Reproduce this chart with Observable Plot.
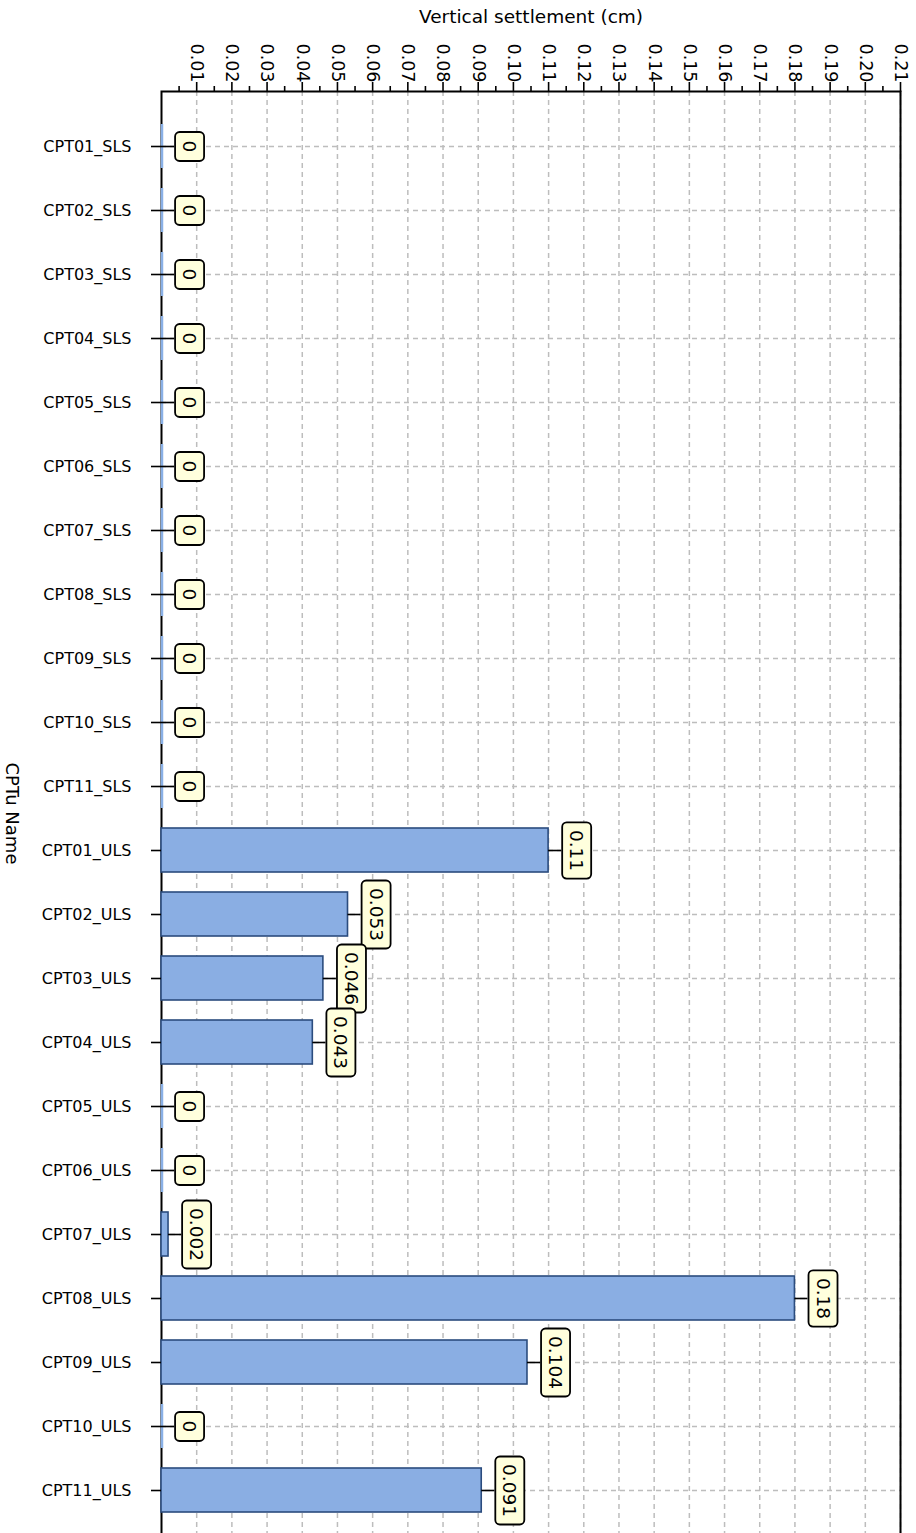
<!DOCTYPE html>
<html>
<head>
<meta charset="utf-8">
<script src="https://cdn.jsdelivr.net/npm/d3@7"></script>
<script src="https://cdn.jsdelivr.net/npm/@observablehq/plot@0.6"></script>
<style>
  html, body { margin: 0; padding: 0; background: white; overflow: hidden; }
</style>
</head>
<body>
<div id="chart"></div>
<script>
const categories = [
  "CPT01_SLS","CPT02_SLS","CPT03_SLS","CPT04_SLS","CPT05_SLS","CPT06_SLS",
  "CPT07_SLS","CPT08_SLS","CPT09_SLS","CPT10_SLS","CPT11_SLS",
  "CPT01_ULS","CPT02_ULS","CPT03_ULS","CPT04_ULS","CPT05_ULS","CPT06_ULS",
  "CPT07_ULS","CPT08_ULS","CPT09_ULS","CPT10_ULS","CPT11_ULS"
];
const settlement = [
  0, 0, 0, 0, 0, 0, 0, 0, 0, 0, 0,
  0.11, 0.053, 0.046, 0.043, 0, 0, 0.002, 0.18, 0.104, 0, 0.091
];
const majorTicks = [0.01,0.02,0.03,0.04,0.05,0.06,0.07,0.08,0.09,0.10,0.11,
                    0.12,0.13,0.14,0.15,0.16,0.17,0.18,0.19,0.20,0.21];
const minorTicks = [0.005,0.015,0.025,0.035,0.045,0.055,0.065,0.075,0.085,0.095,0.105,
                    0.115,0.125,0.135,0.145,0.155,0.165,0.175,0.185,0.195,0.205];
const xTitle = "Vertical settlement (cm)";
const yTitle = "CPTu Name";

const data = categories.map((name, i) => ({name, value: settlement[i]}));

const gridStyle = {stroke: "#bdbdbd", strokeOpacity: 1, strokeDasharray: "5,4", strokeWidth: 1.5};

const chart = Plot.plot({
  width: 916,
  height: 1533,
  marginLeft: 161,
  marginRight: 16,
  marginTop: 91,
  marginBottom: -15,
  style: {fontFamily: "DejaVu Sans", fontSize: "16px", overflow: "hidden", background: "white", color: "black"},
  x: {domain: [0, 0.21], axis: null},
  y: {domain: categories, range: [91, 1545], paddingInner: 0.31, paddingOuter: 0.37, axis: null},
  marks: [
    Plot.gridX(majorTicks, gridStyle),
    Plot.gridY(categories, gridStyle),
    Plot.frame({stroke: "black", strokeWidth: 2}),
    Plot.barX(data.filter(d => d.value > 0), {x: "value", y: "name", fill: "#8AAEE3", stroke: "#2B4C7E", strokeWidth: 1.6}),
    Plot.tickX(data.filter(d => d.value === 0), {x: "value", y: "name", stroke: "#8AB0E6", strokeWidth: 2.5, dx: 0.5}),
    Plot.ruleY(data, {y: "name", x1: "value", x2: "value", insetRight: -13, stroke: "black", strokeWidth: 1.6}),
    Plot.text(data, {x: "value", y: "name", text: d => String(d.value), rotate: 90, dx: 27.5, fontSize: 18.5, fill: "black", textAnchor: "middle"}),
    Plot.axisX(majorTicks, {anchor: "top", tickSize: 10, tickPadding: -1, tickRotate: 90, tickFormat: d3.format(".2f"), fontSize: 17.5, strokeWidth: 1.6, label: null}),
    Plot.axisX(minorTicks, {anchor: "top", tickSize: 6, tickFormat: () => "", strokeWidth: 1.6, label: null}),
    Plot.axisY(categories, {anchor: "left", tickSize: 10, tickPadding: 20, fontSize: 16, strokeWidth: 1.6, label: null}),
    Plot.text([xTitle], {text: d => d, frameAnchor: "top", dy: -82, lineAnchor: "top", textAnchor: "middle", fontSize: 18.5, fill: "black"}),
    Plot.text([yTitle], {text: d => d, frameAnchor: "left", dx: -149.5, dy: -6.5, rotate: 90, textAnchor: "middle", fontSize: 18, fill: "black"})
  ]
});

document.getElementById("chart").appendChild(chart);

// rounded label boxes behind the value labels, sized from the rendered text
d3.select(chart).selectAll('g[aria-label="text"] text')
  .filter(function() { return /^[0-9.]+$/.test(this.textContent); })
  .each(function() {
    const bb = this.getBBox();
    const len = Math.max(bb.width + 15, 29);
    const cx = bb.x + bb.width / 2;
    const cy = bb.y + bb.height / 2;
    const rect = document.createElementNS("http://www.w3.org/2000/svg", "rect");
    rect.setAttribute("x", cx - len / 2);
    rect.setAttribute("y", cy - 14.5);
    rect.setAttribute("width", len);
    rect.setAttribute("height", 29);
    rect.setAttribute("rx", 4.5);
    rect.setAttribute("fill", "#FFFFDD");
    rect.setAttribute("stroke", "black");
    rect.setAttribute("stroke-width", 1.8);
    const t = this.getAttribute("transform");
    if (t) rect.setAttribute("transform", t);
    this.parentNode.insertBefore(rect, this);
  });
</script>
</body>
</html>
